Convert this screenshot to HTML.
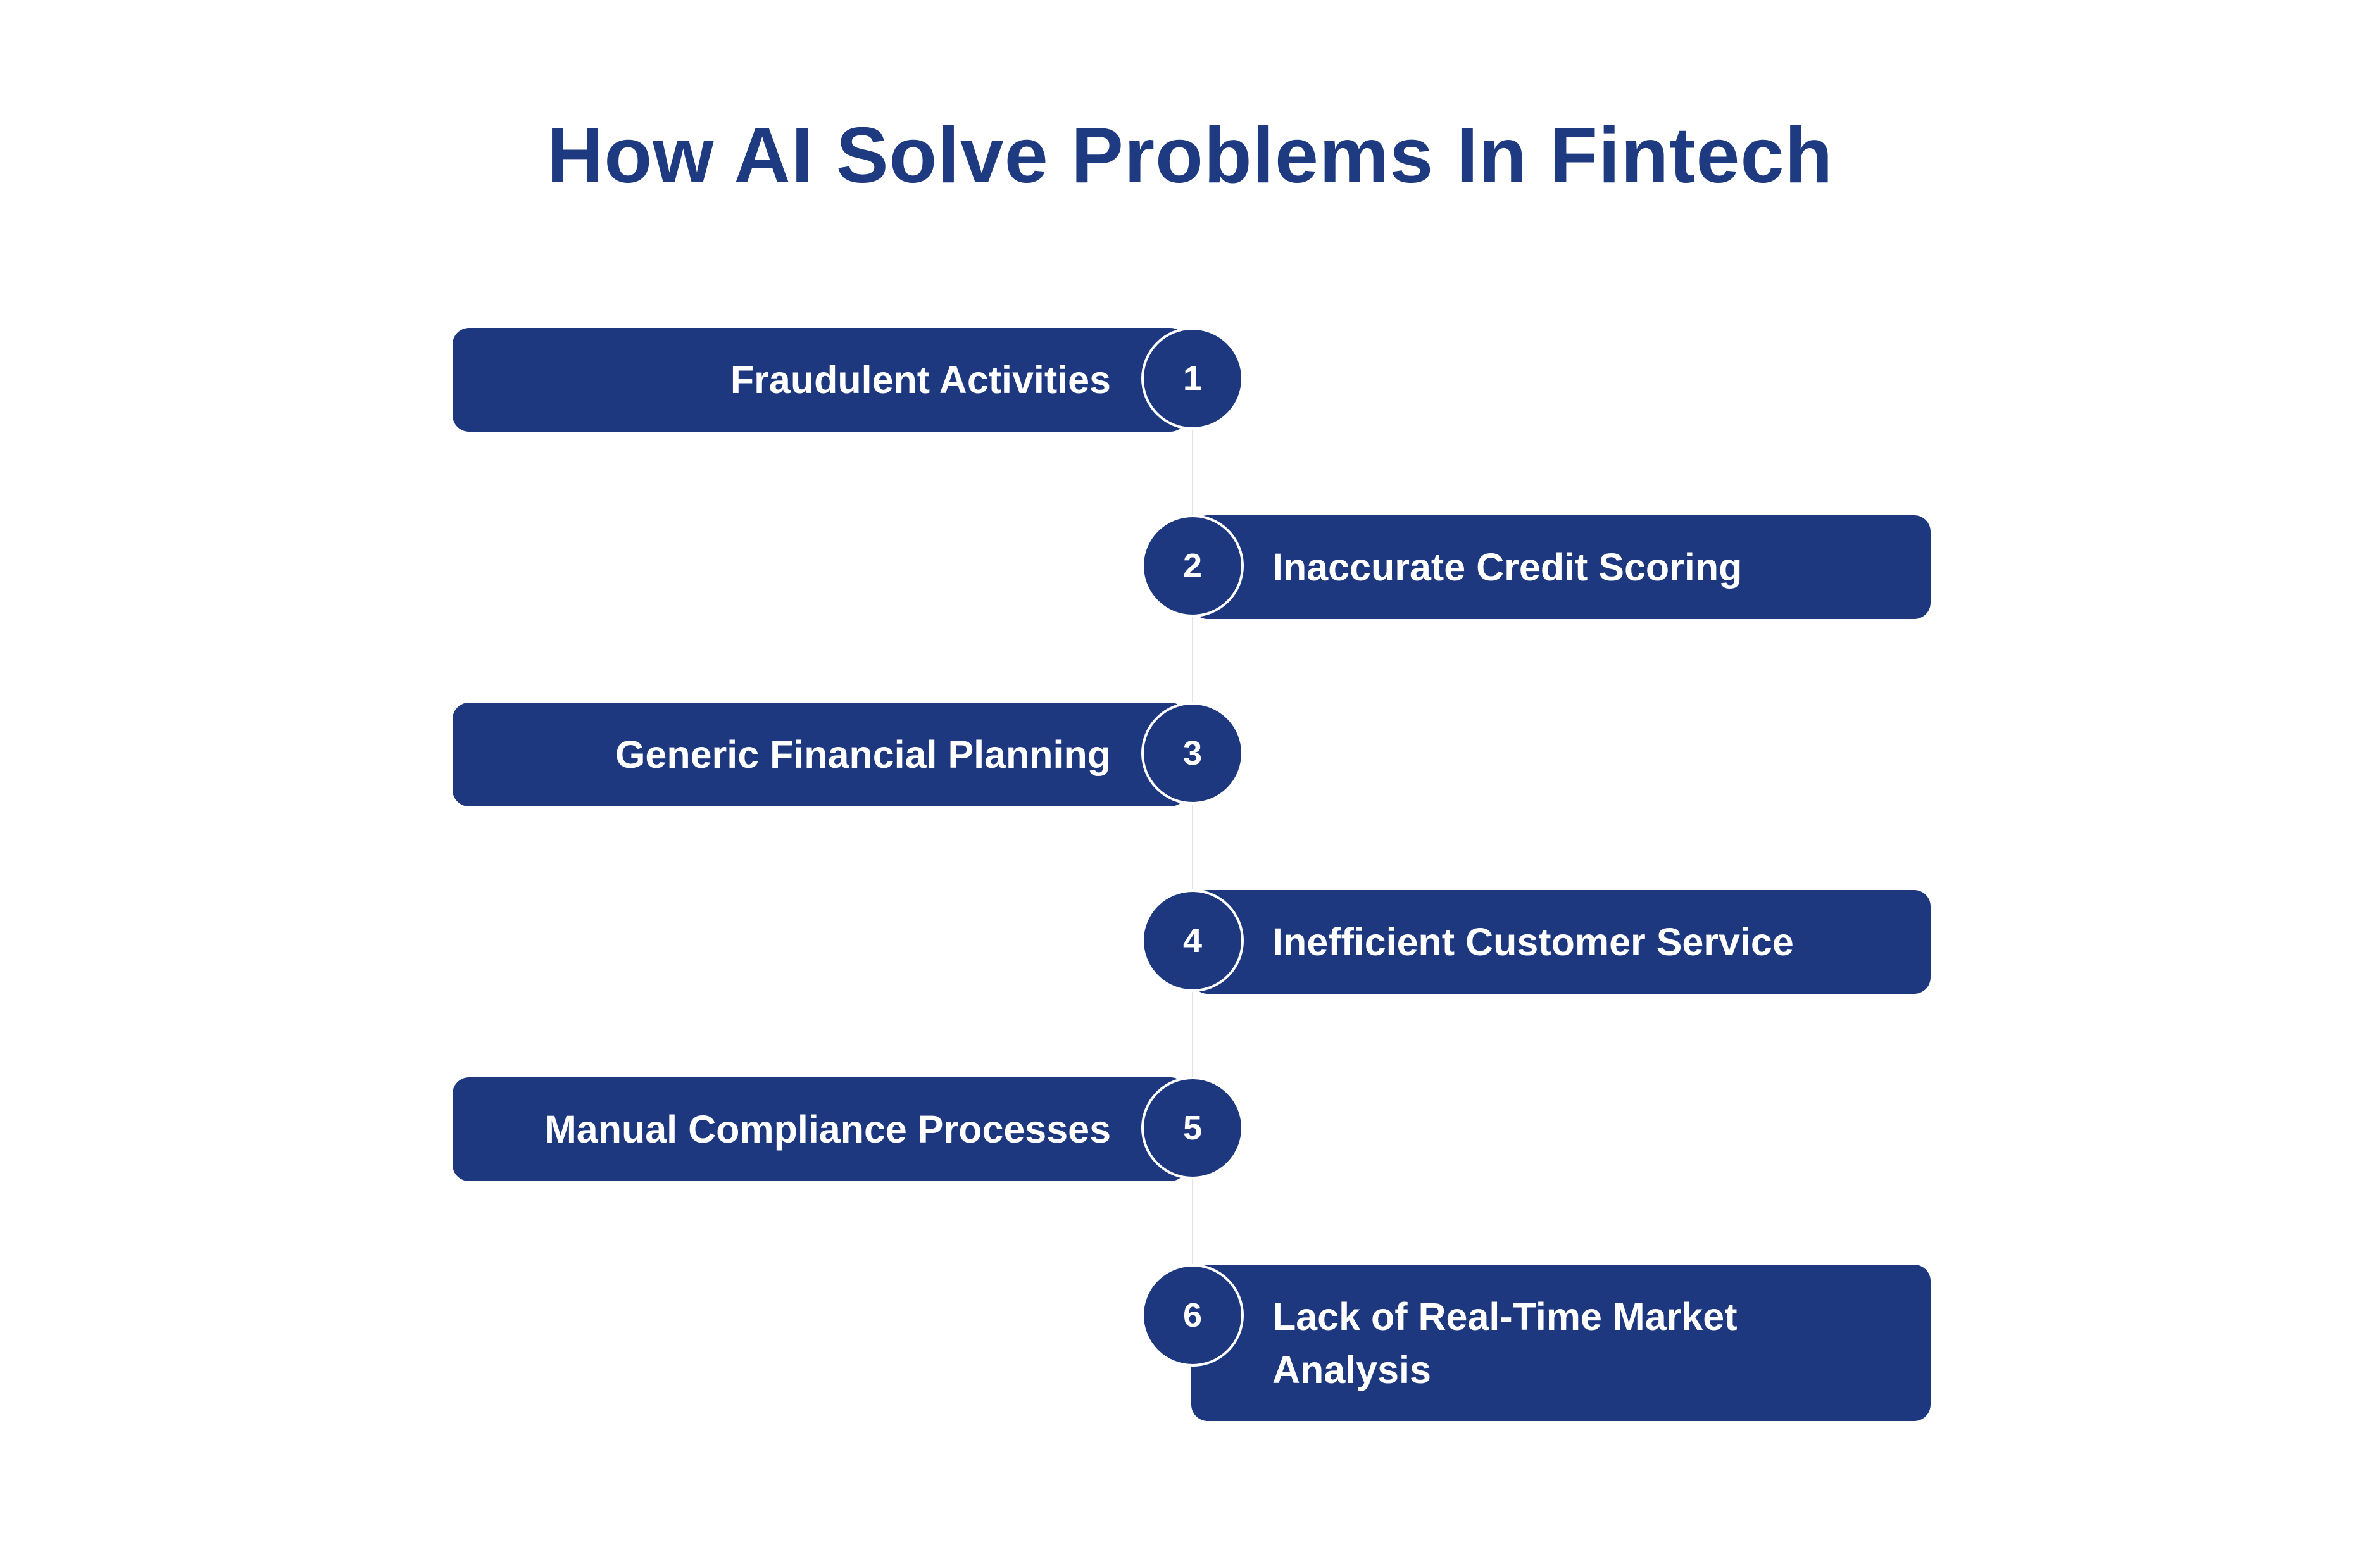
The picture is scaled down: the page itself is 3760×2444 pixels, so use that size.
<!DOCTYPE html>
<html><head><style>
body{margin:0;width:3760px;height:2444px;background:#fff;position:relative;overflow:hidden;font-family:"Liberation Sans",sans-serif;}
.t{position:absolute;left:0;width:3760px;top:176px;text-align:center;font-size:124px;font-weight:bold;color:#1e3a80;line-height:140px;letter-spacing:1px;}
.line{position:absolute;left:1883px;top:600px;width:2px;height:1480px;background:#e2e2e2;}
.b{position:absolute;background:#1e3880;border-radius:26px;color:#fff;font-weight:bold;font-size:61px;box-sizing:border-box;display:flex;align-items:center;}
.l{left:715px;width:1160px;height:164px;justify-content:flex-end;padding-right:120px;}
.r{left:1882px;width:1168px;height:164px;padding-left:128px;}
.c{position:absolute;width:162px;height:162px;border-radius:50%;background:#1e3880;border:4px solid #fff;box-sizing:border-box;color:#fff;font-weight:bold;font-size:54px;display:flex;align-items:center;justify-content:center;left:1803px;}
</style></head><body>
<div class="t">How AI Solve Problems In Fintech</div>
<div class="line"></div>
<div class="b l" style="top:518px">Fraudulent Activities</div>
<div class="c" style="top:517px">1</div>
<div class="b r" style="top:814px">Inaccurate Credit Scoring</div>
<div class="c" style="top:813px">2</div>
<div class="b l" style="top:1110px">Generic Financial Planning</div>
<div class="c" style="top:1109px">3</div>
<div class="b r" style="top:1406px">Inefficient Customer Service</div>
<div class="c" style="top:1405px">4</div>
<div class="b l" style="top:1702px">Manual Compliance Processes</div>
<div class="c" style="top:1701px">5</div>
<div class="b r" style="top:1998px;height:247px;line-height:84px;padding-right:200px">Lack of Real-Time Market Analysis</div>
<div class="c" style="top:1997px">6</div>
</body></html>
